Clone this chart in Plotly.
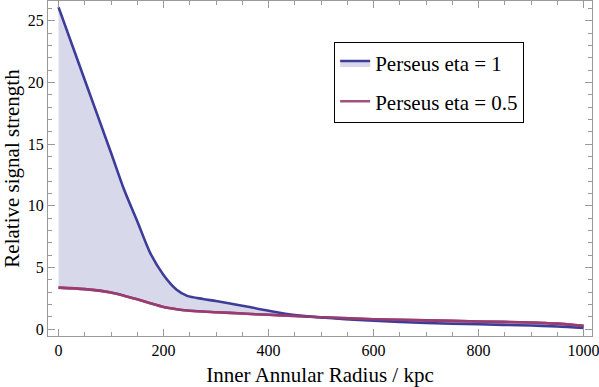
import plotly.graph_objects as go

# --- Data ---
radius = [0, 50, 100, 125, 150, 175, 200, 225, 245, 275, 300, 350, 400,
          450, 500, 600, 700, 800, 900, 950, 1000]
eta_1 = [26.1, 20.2, 14.3, 11.3, 8.75, 6.15, 4.4, 3.2, 2.7, 2.45, 2.28, 1.9,
         1.5, 1.15, 0.95, 0.68, 0.5, 0.4, 0.3, 0.22, 0.1]
eta_05 = [3.37, 3.25, 2.98, 2.72, 2.42, 2.1, 1.8, 1.62, 1.52, 1.43, 1.38,
          1.27, 1.17, 1.08, 0.97, 0.81, 0.72, 0.63, 0.55, 0.45, 0.27]

blue = '#3D3D99'
purple = '#993D71'
frame = '#9a9a9a'
serif = 'Liberation Serif'

fig = go.Figure()

# lower curve first, then upper one fills down to it
fig.add_trace(go.Scatter(
    x=radius, y=eta_05, mode='lines', name='Perseus eta = 0.5',
    line=dict(color=purple, width=2.6, shape='spline', smoothing=0.8),
    showlegend=False
))
fig.add_trace(go.Scatter(
    x=radius, y=eta_1, mode='lines', name='Perseus eta = 1',
    line=dict(color=blue, width=2.6, shape='spline', smoothing=0.8),
    fill='tonexty', fillcolor='rgba(61,61,153,0.2)', legendgroup='a'
))
# redraw purple on top + legend entry
fig.add_trace(go.Scatter(
    x=radius, y=eta_05, mode='lines', name='Perseus eta = 0.5',
    line=dict(color=purple, width=2.6, shape='spline', smoothing=0.8),
    opacity=0.9, legendgroup='b'
))

axis_style = dict(
    showgrid=False, zeroline=False, showline=True, linecolor=frame,
    linewidth=1, mirror='allticks', ticks='inside', tickcolor=frame,
    ticklen=7, tickwidth=1, automargin=False,
    tickfont=dict(family=serif, size=16, color='black'),
)

fig.update_xaxes(
    range=[-20, 1016], tick0=0, dtick=200, ticklabeloverflow='allow',
    minor=dict(dtick=50, ticks='inside', ticklen=4, tickcolor=frame),
    title=dict(text='Inner Annular Radius / kpc',
               font=dict(family=serif, size=21, color='black')),
    **axis_style
)
fig.update_yaxes(
    range=[-0.55, 26.6], tick0=0, dtick=5,
    minor=dict(dtick=1, ticks='inside', ticklen=4, tickcolor=frame),
    title=dict(text='Relative signal strength',
               font=dict(family=serif, size=21, color='black')),
    **axis_style
)

fig.update_layout(
    width=599, height=387,
    margin=dict(l=48, r=7, t=1, b=51),
    plot_bgcolor='white', paper_bgcolor='white',
    font=dict(family=serif),
    legend=dict(
        x=0.526, y=0.878, xanchor='left', yanchor='top',
        bordercolor='black', borderwidth=1, bgcolor='white',
        font=dict(family=serif, size=21, color='black'),
        itemwidth=30, tracegroupgap=8, traceorder='grouped',
    ),
)

# page body has a default 8px margin; drop it so the figure sits at 0,0
fig.write_html("out.html", config={'displayModeBar': False},
               post_script="document.body.style.margin='0';")
